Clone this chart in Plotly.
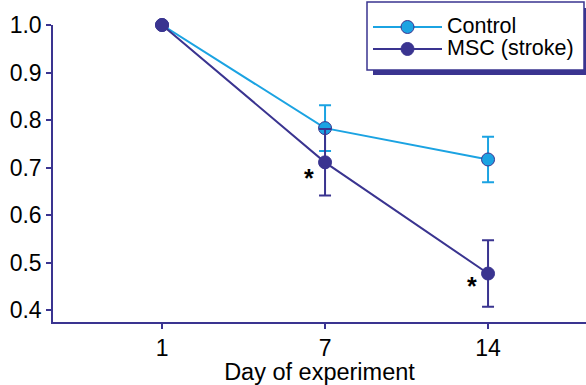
import plotly.graph_objects as go

days = ["1", "7", "14"]
control = [1.0, 0.783, 0.717]
control_err = [0.0, 0.048, 0.048]
msc = [1.0, 0.711, 0.477]
msc_err = [0.0, 0.07, 0.07]
star_days = ["7", "14"]
star_y = [0.677, 0.45]
names = ["Control", "MSC (stroke)"]

NAVY = "#3a3490"
BLUE = "#1ba3e2"
FONT = "Liberation Sans, Arial, sans-serif"

def legend_name(s):
    return "<span style='font-size:21.5px'>" + s + "</span>"

fig = go.Figure()
fig.add_trace(go.Scatter(
    x=days, y=control, name=legend_name(names[0]), mode="lines+markers",
    line=dict(color=BLUE, width=2),
    marker=dict(size=13, color=BLUE, line=dict(color=NAVY, width=1)),
    error_y=dict(type="data", array=control_err, color=BLUE, thickness=2, width=6),
    cliponaxis=False,
))
fig.add_trace(go.Scatter(
    x=days, y=msc, name=legend_name(names[1]), mode="lines+markers",
    line=dict(color=NAVY, width=2),
    marker=dict(size=13, color=NAVY, line=dict(color=NAVY, width=1)),
    error_y=dict(type="data", array=msc_err, color=NAVY, thickness=2, width=6),
    cliponaxis=False,
))

for d, yv in zip(star_days, star_y):
    fig.add_annotation(x=days.index(d), y=yv, text="<b>*</b>", showarrow=False, xshift=-16,
                       font=dict(size=25, color="black", family=FONT))

# plot area: x 53..586, y 25..322 ; margins l=53, r=0, t=2, b=63
H_PLOT = 385 - 2 - 63  # 320
y_top_dom = (322 - 25) / H_PLOT

def px_y(py):
    return (385 - 63 - py) / H_PLOT

def px_x(px):
    return (px - 53) / 533

# legend shadow and box
fig.add_shape(type="rect", xref="paper", yref="paper",
              x0=px_x(373), x1=px_x(590), y0=px_y(75), y1=px_y(8),
              fillcolor=NAVY, line=dict(width=0), layer="below")
fig.add_shape(type="rect", xref="paper", yref="paper",
              x0=px_x(367), x1=px_x(584), y0=px_y(70), y1=px_y(2),
              fillcolor="white", line=dict(width=1.5, color=NAVY), layer="below")

fig.update_layout(
    width=586, height=385,
    margin=dict(l=53, r=0, t=2, b=63, autoexpand=False),
    paper_bgcolor="white", plot_bgcolor="rgba(0,0,0,0)",
    font=dict(family=FONT, size=21, color="black"),
    showlegend=True,
    legend=dict(x=px_x(368), y=px_y(11), xanchor="left", yanchor="top",
                bgcolor="rgba(0,0,0,0)", borderwidth=0,
                font=dict(size=14.6), tracegroupgap=0, itemwidth=69),
    xaxis=dict(type="category", range=[-0.669, 2.601], showline=True, linecolor=NAVY,
               linewidth=1.5, ticks="outside", tickcolor=NAVY, ticklen=5, tickwidth=1.5,
               showgrid=False, zeroline=False, automargin=False,
               tickfont=dict(size=23),
               title=dict(text="Day of experiment", font=dict(size=23.5), standoff=2)),
    yaxis=dict(range=[0.375, 1.0], domain=[0, y_top_dom], showline=True, linecolor=NAVY,
               linewidth=1.5, ticks="outside", tickcolor=NAVY, ticklen=5, tickwidth=1.5,
               tickvals=[0.4, 0.5, 0.6, 0.7, 0.8, 0.9, 1.0],
               ticktext=["0.4", "0.5", "0.6", "0.7", "0.8", "0.9", "1.0"],
               showgrid=False, zeroline=False, automargin=False, tickfont=dict(size=23)),
)

fig.write_html("out.html", config={"displayModeBar": False},
               post_script="document.body.style.margin='0';document.body.style.overflow='hidden';")
